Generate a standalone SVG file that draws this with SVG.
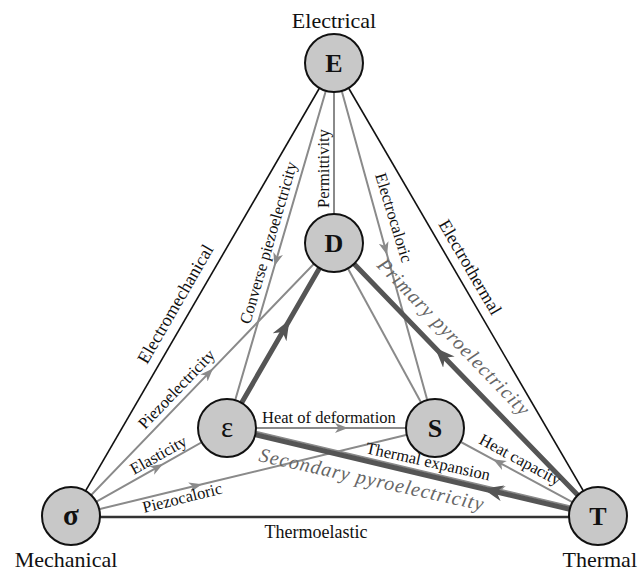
<svg xmlns="http://www.w3.org/2000/svg" width="638" height="571" viewBox="0 0 638 571" font-family="'Liberation Serif', 'Times New Roman', 'DejaVu Serif', serif">
<style>
.outer{stroke:#111;stroke-width:1.6;fill:none}
.base{stroke:#333;stroke-width:2.6;fill:none}
.thin{stroke:#8a8a8a;stroke-width:2;fill:none}
.thick{stroke:#555;stroke-width:5;fill:none}
.node circle{fill:#c8c8c8;stroke:#111;stroke-width:2}
.node text{font-size:26px;font-weight:bold;text-anchor:middle;fill:#111}
.cap{font-size:22px;fill:#111}
.lo{font-size:18px;fill:#111}
.li{font-size:16.5px;fill:#111}
.pyro{font-size:20px;font-style:italic;letter-spacing:1px;fill:#666}
</style>
<defs>
<marker id="at" markerUnits="userSpaceOnUse" markerWidth="14" markerHeight="12" refX="13" refY="5" orient="auto">
<path d="M0,0 L13,5 L0,10 L3.5,5 z" fill="#8a8a8a"/>
</marker>
<marker id="ak" markerUnits="userSpaceOnUse" markerWidth="22" markerHeight="18" refX="20" refY="8" orient="auto">
<path d="M0,0 L20,8 L0,16 L6,8 z" fill="#555"/>
</marker>
</defs>
<g id="connectors">
<line class="outer" x1="334" y1="63" x2="71" y2="516"/>
<line class="outer" x1="334" y1="63" x2="598" y2="516"/>
<line class="base" x1="71" y1="517" x2="598" y2="517"/>
<line class="thin" x1="334" y1="63" x2="334" y2="243"/>
<path class="thin" d="M334,63 L274.5,266 L227,428" marker-mid="url(#at)"/>
<path class="thin" d="M334,63 L387.1,255 L435,428" marker-mid="url(#at)"/>
<path class="thin" d="M71,516 L213,368.6 L334,243" marker-mid="url(#at)"/>
<line class="thin" x1="334" y1="243" x2="435" y2="428"/>
<path class="thin" d="M71,516 L163,464.1 L227,428" marker-mid="url(#at)"/>
<path class="thin" d="M71,516 L202,484.3 L435,428" marker-mid="url(#at)"/>
<path class="thin" d="M227,428 L348,428 L435,428" marker-mid="url(#at)"/>
<path class="thin" d="M598,516 L493,459.3 L435,428" marker-mid="url(#at)"/>
<path class="thin" d="M598.7,513.1 L492,487.8 L227.7,425.1" marker-mid="url(#at)"/>
<path class="thick" d="M227,428 L289.5,320 L334,243" marker-mid="url(#ak)"/>
<path class="thick" d="M598,516 L435,347.8 L334,243" marker-mid="url(#ak)"/>
<path class="thick" d="M598,516 L483,488.7 L227,428" marker-mid="url(#ak)"/>
</g>
<g id="labels">
<text class="cap" x="334" y="28" text-anchor="middle">Electrical</text>
<text class="cap" x="66" y="567" text-anchor="middle">Mechanical</text>
<text class="cap" x="637" y="567" text-anchor="end">Thermal</text>
<text class="lo" transform="translate(147,365) rotate(-60)">Electromechanical</text>
<text class="lo" transform="translate(438,224) rotate(59.7)">Electrothermal</text>
<text class="lo" x="316" y="538" text-anchor="middle">Thermoelastic</text>
<text class="li" transform="translate(329,208) rotate(-90)">Permittivity</text>
<text class="li" transform="translate(250,325) rotate(-73.7)">Converse piezoelectricity</text>
<text class="li" transform="translate(375,175) rotate(73)">Electrocaloric</text>
<text class="li" transform="translate(145,430) rotate(-46.3)">Piezoelectricity</text>
<text class="li" transform="translate(134,475) rotate(-29.4)">Elasticity</text>
<text class="li" transform="translate(144,513) rotate(-14)">Piezocaloric</text>
<text class="li" x="262" y="423">Heat of deformation</text>
<text class="li" transform="translate(365,453) rotate(12.5)">Thermal expansion</text>
<text class="li" transform="translate(478,443) rotate(28.4)">Heat capacity</text>
<text class="pyro" transform="translate(376,266) rotate(46)">Primary pyroelectricity</text>
<text class="pyro" transform="translate(258,461) rotate(12.5)">Secondary pyroelectricity</text>
</g>
<g id="node-E" class="node"><circle cx="334" cy="63" r="29"/><text x="334" y="72">E</text></g>
<g id="node-D" class="node"><circle cx="334" cy="243" r="29"/><text x="334" y="252">D</text></g>
<g id="node-epsilon" class="node"><circle cx="227" cy="428" r="29"/><text x="227" y="437" style="font-weight:normal;font-size:29px">ε</text></g>
<g id="node-S" class="node"><circle cx="435" cy="428" r="29"/><text x="435" y="437">S</text></g>
<g id="node-sigma" class="node"><circle cx="71" cy="516" r="29"/><text x="71" y="525" style="font-size:29px">σ</text></g>
<g id="node-T" class="node"><circle cx="598" cy="516" r="29"/><text x="598" y="525">T</text></g>
</svg>
